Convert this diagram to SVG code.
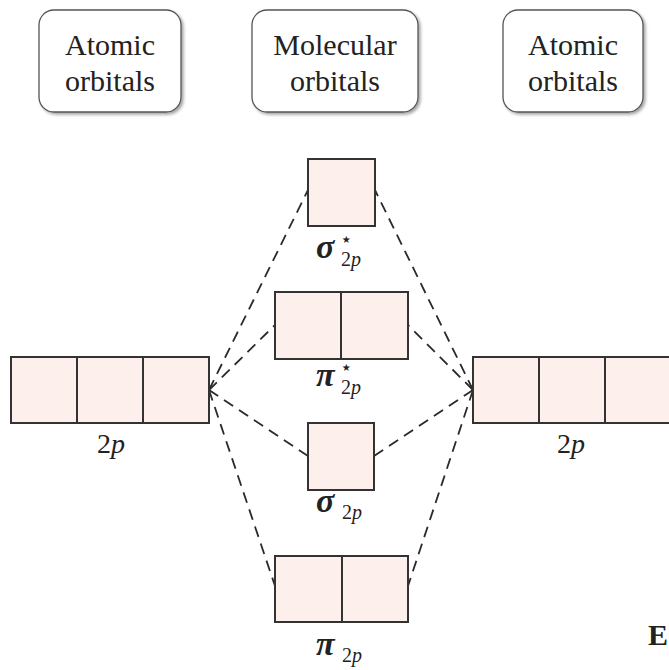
<svg xmlns="http://www.w3.org/2000/svg" width="669" height="670" viewBox="0 0 669 670">
<defs>
<filter id="sh" x="-10%" y="-10%" width="130%" height="130%">
<feDropShadow dx="2" dy="2" stdDeviation="1.5" flood-color="#000" flood-opacity="0.35"/>
</filter>
</defs>
<style>
.hdr{fill:#fff;stroke:#555;stroke-width:1.3;filter:url(#sh)}
.ht{font-size:30px;fill:#222;text-anchor:middle}
.orb{fill:#fdf0ec;stroke:#333;stroke-width:2}
.dl{fill:none;stroke:#2a2a2a;stroke-width:1.8;stroke-dasharray:11,7}
.lab{fill:#222}
.gk{font-size:34px;font-weight:bold;font-style:italic}
.sub{font-size:20px}
.st{font-size:20px}
.it{font-style:italic}
</style>
<rect width="669" height="670" fill="#fff"/>
<g font-family="'Liberation Serif', 'DejaVu Serif', serif">
<g id="hdr-left">
<rect class="hdr" x="39" y="10" width="142" height="102" rx="15"/>
<text class="ht" x="110" y="55">Atomic</text>
<text class="ht" x="110" y="91">orbitals</text>
</g>
<g id="hdr-mid">
<rect class="hdr" x="252" y="10" width="166" height="102" rx="15"/>
<text class="ht" x="335" y="55">Molecular</text>
<text class="ht" x="335" y="91">orbitals</text>
</g>
<g id="hdr-right">
<rect class="hdr" x="503" y="10" width="140" height="102" rx="15"/>
<text class="ht" x="573" y="55">Atomic</text>
<text class="ht" x="573" y="91">orbitals</text>
</g>
<g id="connectors">
<line class="dl" x1="209" y1="390" x2="308" y2="190"/>
<line class="dl" x1="209" y1="390" x2="275" y2="325"/>
<line class="dl" x1="209" y1="390" x2="308" y2="456"/>
<line class="dl" x1="209" y1="390" x2="275" y2="586"/>
<line class="dl" x1="473" y1="390" x2="375" y2="190"/>
<line class="dl" x1="473" y1="390" x2="408" y2="325"/>
<line class="dl" x1="473" y1="390" x2="374" y2="456"/>
<line class="dl" x1="473" y1="390" x2="408" y2="586"/>
</g>
<g id="left-2p">
<rect class="orb" x="11" y="357" width="66" height="66"/>
<rect class="orb" x="77" y="357" width="66" height="66"/>
<rect class="orb" x="143" y="357" width="66" height="66"/>
<text class="lab" x="97" y="453" font-size="28">2<tspan class="it">p</tspan></text>
</g>
<g id="right-2p">
<rect class="orb" x="473" y="357" width="66" height="66"/>
<rect class="orb" x="539" y="357" width="66" height="66"/>
<rect class="orb" x="605" y="357" width="66" height="66"/>
<text class="lab" x="557" y="453" font-size="28">2<tspan class="it">p</tspan></text>
</g>
<g id="sigma-star">
<rect class="orb" x="308" y="159" width="67" height="67"/>
<text class="lab gk" x="316" y="258">σ</text>
<text class="lab st" x="340" y="246">⋆</text>
<text class="lab sub" x="341" y="266">2<tspan class="it">p</tspan></text>
</g>
<g id="pi-star">
<rect class="orb" x="275" y="292" width="66" height="67"/>
<rect class="orb" x="341" y="292" width="67" height="67"/>
<text class="lab gk" x="316" y="386">π</text>
<text class="lab st" x="340" y="374">⋆</text>
<text class="lab sub" x="341" y="394">2<tspan class="it">p</tspan></text>
</g>
<g id="sigma">
<rect class="orb" x="308" y="423" width="66" height="67"/>
<text class="lab gk" x="316" y="512">σ</text>
<text class="lab sub" x="342" y="519">2<tspan class="it">p</tspan></text>
</g>
<g id="pi">
<rect class="orb" x="275" y="556" width="67" height="66"/>
<rect class="orb" x="342" y="556" width="66" height="66"/>
<text class="lab gk" x="316" y="655">π</text>
<text class="lab sub" x="342" y="662">2<tspan class="it">p</tspan></text>
</g>
<text class="lab" x="648" y="645" font-size="30" font-weight="bold">E</text>
</g>
</svg>
